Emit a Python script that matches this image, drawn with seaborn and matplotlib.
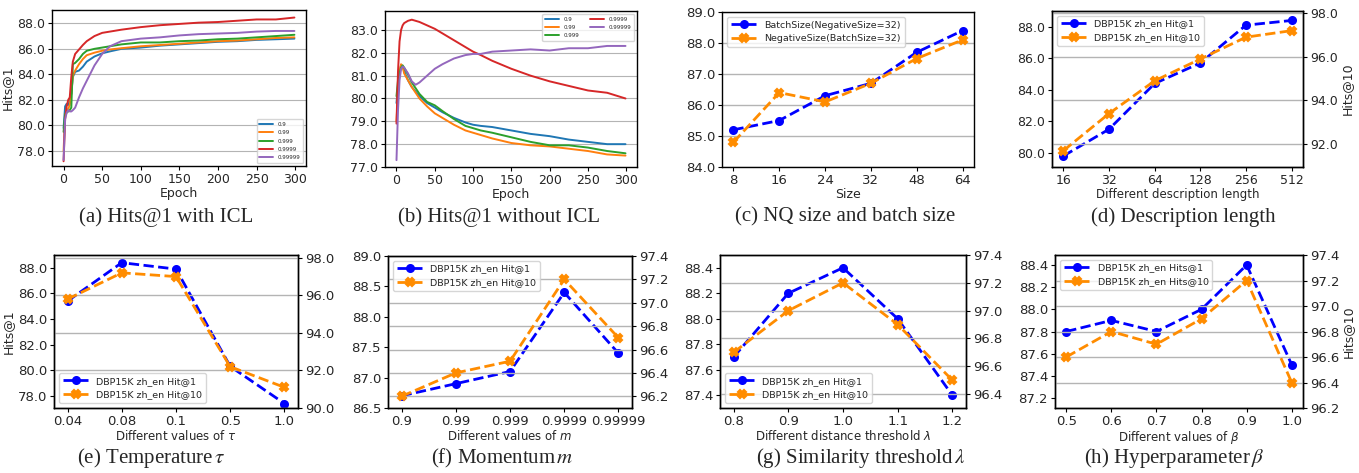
import matplotlib
matplotlib.use("Agg")
import matplotlib.pyplot as plt
from matplotlib.ticker import FormatStrFormatter
import numpy as np
import pandas as pd
import seaborn as sns

W, H = 1359, 473

# ---- (a) Hits@1 with ICL, sampled along the epoch axis ----
epochs_a = [0, 2, 4, 6, 8, 10, 12, 15, 20, 25, 30, 40, 50, 60, 75, 100,
            125, 150, 175, 200, 225, 250, 275, 299]
icl_09 = [79.8, 81.5, 81.7, 81.6, 81.9, 82.5, 83.8, 84.2, 84.3, 84.6, 85.0, 85.4,
          85.65, 85.8, 86.0, 86.1, 86.25, 86.35, 86.45, 86.55, 86.6, 86.7, 86.75, 86.8]
icl_099 = [78.0, 80.8, 81.2, 81.3, 81.6, 82.5, 83.9, 84.3, 84.8, 85.2, 85.5, 85.7,
           85.85, 85.95, 86.05, 86.2, 86.3, 86.4, 86.5, 86.6, 86.65, 86.75, 86.85, 86.9]
icl_0999 = [79.5, 80.9, 81.0, 81.1, 81.2, 81.4, 84.8, 84.9, 85.2, 85.6, 85.85, 86.0,
            86.1, 86.2, 86.35, 86.5, 86.5, 86.6, 86.65, 86.75, 86.8, 86.9, 87.0, 87.1]
icl_09999 = [77.2, 80.5, 81.5, 82.0, 82.2, 83.8, 85.0, 85.6, 85.95, 86.3, 86.6, 87.0,
             87.25, 87.35, 87.5, 87.7, 87.85, 87.95, 88.05, 88.1, 88.2, 88.3, 88.3, 88.45]
icl_099999 = [77.3, 80.5, 81.0, 81.2, 81.1, 81.1, 81.2, 81.4, 82.2, 82.9, 83.5, 84.7,
              85.6, 86.2, 86.6, 86.8, 86.9, 87.05, 87.15, 87.2, 87.25, 87.35, 87.4, 87.4]

# ---- (b) Hits@1 without ICL ----
epochs_b = [0, 2, 4, 6, 8, 10, 15, 20, 25, 30, 40, 50, 60, 75, 90, 100, 110,
            125, 150, 175, 200, 225, 250, 275, 299]
noicl_09 = [79.8, 80.6, 81.2, 81.45, 81.4, 81.2, 80.8, 80.5, 80.3, 80.1, 79.8, 79.6,
            79.4, 79.15, 78.95, 78.85, 78.8, 78.75, 78.6, 78.45, 78.35, 78.2, 78.1, 78.0, 78.0]
noicl_099 = [79.0, 80.3, 81.2, 81.5, 81.4, 81.1, 80.8, 80.5, 80.25, 80.0, 79.65, 79.35,
             79.15, 78.85, 78.6, 78.5, 78.4, 78.25, 78.05, 77.95, 77.9, 77.8, 77.7, 77.55, 77.5]
noicl_0999 = [80.1, 80.8, 81.1, 81.35, 81.45, 81.35, 81.05, 80.7, 80.45, 80.2, 79.85, 79.7,
              79.45, 79.1, 78.8, 78.7, 78.6, 78.5, 78.3, 78.1, 77.95, 77.95, 77.85, 77.7, 77.6]
noicl_09999 = [78.9, 81.2, 82.5, 83.0, 83.2, 83.3, 83.4, 83.45, 83.4, 83.35, 83.2, 83.05,
               82.85, 82.55, 82.25, 82.05, 81.9, 81.65, 81.3, 81.0, 80.75, 80.55, 80.35, 80.25, 80.0]
noicl_099999 = [77.3, 79.5, 80.8, 81.3, 81.4, 81.35, 81.1, 80.75, 80.6, 80.7, 81.0, 81.3,
                81.5, 81.75, 81.9, 81.95, 81.95, 82.05, 82.1, 82.15, 82.1, 82.2, 82.2, 82.3, 82.3]
momentum_names = ["0.9", "0.99", "0.999", "0.9999", "0.99999"]

# ---- (c) NQ size and batch size ----
sizes = ["8", "16", "24", "32", "48", "64"]
batch_size = [85.2, 85.5, 86.3, 86.7, 87.7, 88.4]
negative_size = [84.8, 86.4, 86.1, 86.7, 87.5, 88.1]

# ---- (d) description length ----
desc_len = ["16", "32", "64", "128", "256", "512"]
desc_h1 = [79.8, 81.5, 84.4, 85.7, 88.1, 88.4]
desc_h10 = [91.7, 93.4, 94.9, 95.9, 96.9, 97.2]

# ---- (e) temperature ----
tau = ["0.04", "0.08", "0.1", "0.5", "1.0"]
tau_h1 = [85.4, 88.4, 87.9, 80.3, 77.4]
tau_h10 = [95.8, 97.2, 97.0, 92.2, 91.1]

# ---- (f) momentum ----
mom = ["0.9", "0.99", "0.999", "0.9999", "0.99999"]
mom_h1 = [86.7, 86.9, 87.1, 88.4, 87.4]
mom_h10 = [96.2, 96.4, 96.5, 97.2, 96.7]

# ---- (g) similarity threshold ----
lam = ["0.8", "0.9", "1.0", "1.1", "1.2"]
lam_h1 = [87.7, 88.2, 88.4, 88.0, 87.4]
lam_h10 = [96.7, 97.0, 97.2, 96.9, 96.5]

# ---- (h) hyperparameter beta ----
beta = ["0.5", "0.6", "0.7", "0.8", "0.9", "1.0"]
beta_h1 = [87.8, 87.9, 87.8, 88.0, 88.4, 87.5]
beta_h10 = [96.6, 96.8, 96.7, 96.9, 97.2, 96.4]

BLUE = "#0000ff"
ORANGE = "#ff8c00"
TAB = ["#1f77b4", "#ff7f0e", "#2ca02c", "#d62728", "#9467bd"]
GRID = "#b4b4b4"

sns.set_style("whitegrid", {"axes.edgecolor": "black", "grid.color": GRID,
                            "xtick.bottom": True, "ytick.left": True})
plt.rcParams["font.family"] = ["DejaVu Sans"]


def rect(l, t, r, b):
    return [l / W, 1 - b / H, (r - l) / W, (b - t) / H]


def frame(ax, size):
    for s in ax.spines.values():
        s.set_color("black")
        s.set_linewidth(1.0)
    ax.tick_params(length=3, width=0.8, color="black", labelsize=size, pad=2)


def drop_legend(ax):
    if ax.get_legend() is not None:
        ax.get_legend().remove()


def curve_panel(ax, epochs, series, ylim, yticks, legend_kw):
    frames = [pd.DataFrame({"epoch": epochs, "hits": vals, "m": name})
              for name, vals in zip(momentum_names, series)]
    df = pd.concat(frames, ignore_index=True)
    sns.lineplot(data=df, x="epoch", y="hits", hue="m", palette=TAB,
                 linewidth=1.4, ax=ax)
    ax.set_xlim(-15, 314)
    ax.set_ylim(*ylim)
    ax.set_xticks([0, 50, 100, 150, 200, 250, 300])
    ax.set_yticks(yticks)
    ax.yaxis.set_major_formatter(FormatStrFormatter("%.1f"))
    ax.xaxis.grid(False)
    ax.set_xlabel("Epoch", fontsize=9, labelpad=1)
    ax.set_ylabel("")
    ax.legend(title=None, fontsize=4, frameon=True, handlelength=2.5,
              borderpad=0.5, labelspacing=0.6, **legend_kw)
    frame(ax, 9)


def twin_panel(ax, cats, h1, h10, lab1, lab10, ylim1, ylim10, yt1, yt10,
               leg_loc, xlabel, size=9.5):
    sns.pointplot(x=cats, y=h1, color=BLUE, linestyle="--", marker="o",
                  markersize=5, linewidth=2, errorbar=None, ax=ax, label=lab1)
    drop_legend(ax)
    ax2 = ax.twinx()
    sns.pointplot(x=cats, y=h10, color=ORANGE, linestyle="--", marker="X",
                  markersize=5.5, linewidth=2, errorbar=None, ax=ax2, label=lab10)
    drop_legend(ax2)
    n = len(cats)
    ax.set_xlim(-0.25, n - 0.75)
    ax.set_ylim(*ylim1)
    ax2.set_ylim(*ylim10)
    ax.set_yticks(yt1)
    ax2.set_yticks(yt10)
    ax.yaxis.set_major_formatter(FormatStrFormatter("%.1f"))
    ax2.yaxis.set_major_formatter(FormatStrFormatter("%.1f"))
    ax.grid(False)
    ax2.grid(False)
    ax2.yaxis.grid(True, color=GRID, linewidth=1)
    ax.set_xlabel(xlabel, fontsize=8.5, labelpad=1)
    ax.set_ylabel("")
    ax2.set_ylabel("")
    h_a, l_a = ax.get_legend_handles_labels()
    h_b, l_b = ax2.get_legend_handles_labels()
    ax2.legend(h_a + h_b, l_a + l_b, loc=leg_loc, fontsize=6.8, frameon=True,
               handlelength=2.8)
    frame(ax, size)
    frame(ax2, size)
    ax2.tick_params(axis="y", right=True, length=3)
    return ax2


fig = plt.figure(figsize=(W / 100, H / 100), dpi=100)

# (a)
ax_a = fig.add_axes(rect(52, 10, 306, 166))
curve_panel(ax_a, epochs_a, [icl_09, icl_099, icl_0999, icl_09999, icl_099999],
            (76.83, 89.04), [78, 80, 82, 84, 86, 88], {"loc": "lower right"})
ax_a.set_ylabel("Hits@1", fontsize=9, labelpad=2)

# (b)
ax_b = fig.add_axes(rect(385, 11, 637, 167))
curve_panel(ax_b, epochs_b, [noicl_09, noicl_099, noicl_0999, noicl_09999, noicl_099999],
            (77.0, 83.83), [77, 78, 79, 80, 81, 82, 83],
            {"loc": "upper right", "ncol": 2})

# (c)
ax_c = fig.add_axes(rect(722, 12, 974, 167))
sns.pointplot(x=sizes, y=batch_size, color=BLUE, linestyle="--", marker="o",
              markersize=5, linewidth=2, errorbar=None, ax=ax_c,
              label="BatchSize(NegativeSize=32)")
sns.pointplot(x=sizes, y=negative_size, color=ORANGE, linestyle="--", marker="X",
              markersize=5.5, linewidth=2, errorbar=None, ax=ax_c,
              label="NegativeSize(BatchSize=32)")
ax_c.set_xlim(-0.25, len(sizes) - 0.75)
ax_c.set_ylim(84, 89)
ax_c.set_yticks([84, 85, 86, 87, 88, 89])
ax_c.yaxis.set_major_formatter(FormatStrFormatter("%.1f"))
ax_c.xaxis.grid(False)
ax_c.yaxis.grid(True, color=GRID, linewidth=1)
ax_c.set_xlabel("Size", fontsize=9, labelpad=1)
ax_c.set_ylabel("")
ax_c.legend(loc="upper left", fontsize=6.8, frameon=True, handlelength=2.8)
frame(ax_c, 9.5)

# (d)
ax_d = fig.add_axes(rect(1052, 11, 1303, 167))
ax_d2 = twin_panel(ax_d, desc_len, desc_h1, desc_h10,
                   "DBP15K zh_en Hit@1", "DBP15K zh_en Hit@10",
                   (79.1, 89.0), (90.95, 98.1), [80, 82, 84, 86, 88],
                   [92, 94, 96, 98], "upper left", "Different description length", size=9)
ax_d2.set_ylabel("Hits@10", fontsize=9, labelpad=2)

# (e)
ax_e = fig.add_axes(rect(54, 255, 298, 408))
twin_panel(ax_e, tau, tau_h1, tau_h10, "DBP15K zh_en Hit@1", "DBP15K zh_en Hit@10",
           (77.05, 89.0), (90.0, 98.15), [78, 80, 82, 84, 86, 88],
           [90, 92, 94, 96, 98], "lower left", r"Different values of $\tau$")
ax_e.set_ylabel("Hits@1", fontsize=9, labelpad=2)

# (f)
ax_f = fig.add_axes(rect(388, 256, 632, 408))
twin_panel(ax_f, mom, mom_h1, mom_h10, "DBP15K zh_en Hit@1", "DBP15K zh_en Hit@10",
           (86.5, 89.0), (96.1, 97.4), [86.5, 87.0, 87.5, 88.0, 88.5, 89.0],
           [96.2, 96.4, 96.6, 96.8, 97.0, 97.2, 97.4], "upper left",
           r"Different values of $m$")

# (g)
ax_g = fig.add_axes(rect(720, 255, 966, 408))
twin_panel(ax_g, lam, lam_h1, lam_h10, "DBP15K zh_en Hit@1", "DBP15K zh_en Hit@10",
           (87.3, 88.5), (96.3, 97.4), [87.4, 87.6, 87.8, 88.0, 88.2, 88.4],
           [96.4, 96.6, 96.8, 97.0, 97.2, 97.4], "lower left",
           r"Different distance threshold $\lambda$")

# (h)
ax_h = fig.add_axes(rect(1055, 255, 1303, 408))
ax_h2 = twin_panel(ax_h, beta, beta_h1, beta_h10, "DBP15K zh_en Hits@1",
                   "DBP15K zh_en Hits@10", (87.11, 88.49), (96.2, 97.38),
                   [87.2, 87.4, 87.6, 87.8, 88.0, 88.2, 88.4],
                   [96.2, 96.4, 96.6, 96.8, 97.0, 97.2, 97.4], "upper left",
                   r"Different values of $\beta$")
ax_h2.set_ylabel("Hits@10", fontsize=9, labelpad=2)

# captions under each panel
captions = [
    (166, 217, "(a) Hits@1 with ICL"),
    (499, 217, "(b) Hits@1 without ICL"),
    (845, 217, "(c) NQ size and batch size"),
    (1183, 217, "(d) Description length"),
    (151, 458, r"(e) Temperature$\,\tau$"),
    (502, 458, r"(f) Momentum$\,m$"),
    (861, 458, r"(g) Similarity threshold$\,\lambda$"),
    (1174, 458, r"(h) Hyperparameter$\,\beta$"),
]
for cx, cy, txt in captions:
    fig.text(cx / W, 1 - cy / H, txt, ha="center", va="center", fontsize=15,
             family="Liberation Serif", math_fontfamily="stix")

fig.savefig("out.png", dpi=100)
